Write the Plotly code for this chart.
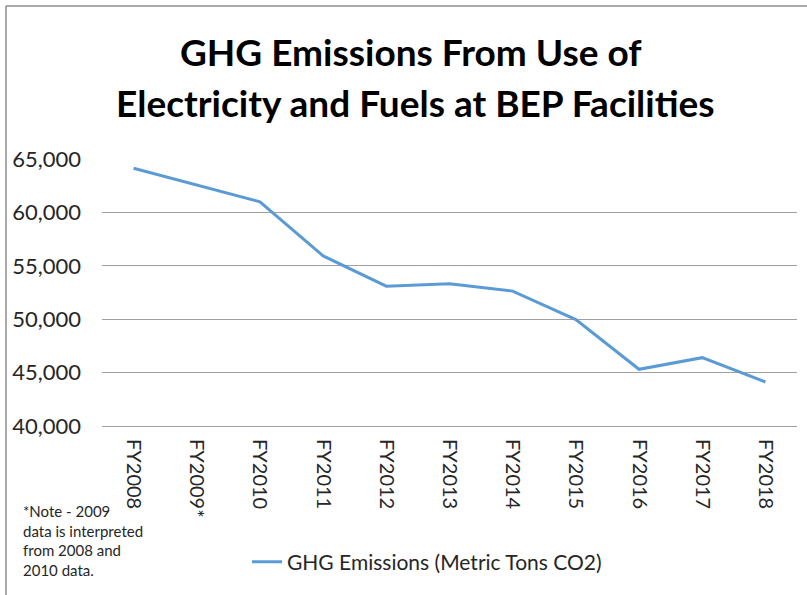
import plotly.graph_objects as go

categories = ["FY2008", "FY2009*", "FY2010", "FY2011", "FY2012", "FY2013",
              "FY2014", "FY2015", "FY2016", "FY2017", "FY2018"]
emissions = [64130, 62560, 60990, 55930, 53090, 53320, 52630, 49970, 45310, 46400, 44120]
series_name = "GHG Emissions (Metric Tons CO2)"
title_lines = ["GHG Emissions From Use of", "Electricity and Fuels at BEP Facilities"]
note_text = "*Note - 2009<br>data is interpreted<br>from 2008 and<br>2010 data."
y_ticks = [40000, 45000, 50000, 55000, 60000, 65000]

W, H = 807, 595
L, R, T, B = 102, 10, 159, 169
pw, ph = W - L - R, H - T - B

def px(x):
    return (x - L) / pw

def py(y):
    return (H - B - y) / ph

FONT = "Lato"
TXT = "#262626"

fig = go.Figure()
fig.add_trace(go.Scatter(
    x=categories, y=emissions, mode="lines", name=series_name,
    line=dict(color="#5B9BD5", width=3),
))

fig.update_layout(
    width=W, height=H,
    margin=dict(l=L, r=R, t=T, b=B),
    paper_bgcolor="white", plot_bgcolor="white",
    font=dict(family=FONT, color=TXT),
    showlegend=True,
    legend=dict(orientation="h", x=px(247), y=py(562), xanchor="left", yanchor="middle",
                font=dict(size=21, color=TXT), bgcolor="rgba(0,0,0,0)"),
    xaxis=dict(type="category", range=[-0.5, len(categories) - 0.5],
               tickangle=90, tickfont=dict(size=20, color=TXT),
               showgrid=False, showline=True, linecolor="#A0A0A0", linewidth=1,
               ticks="", ticklabelstandoff=8, fixedrange=True),
    yaxis=dict(range=[40000, 65000], tickvals=y_ticks, tickformat=",d",
               tickfont=dict(size=22, color=TXT),
               showgrid=True, gridcolor="#A0A0A0", gridwidth=1,
               zeroline=False, showline=False, ticks="", ticklabelstandoff=20,
               fixedrange=True),
)

fig.add_annotation(text="<b>%s</b>" % title_lines[0], xref="paper", yref="paper",
                   x=px(411), y=py(52), xanchor="center", yanchor="middle",
                   showarrow=False, font=dict(size=37, color="black", family=FONT))
fig.add_annotation(text="<b>%s</b>" % title_lines[1], xref="paper", yref="paper",
                   x=px(415), y=py(103), xanchor="center", yanchor="middle",
                   showarrow=False, font=dict(size=37, color="black", family=FONT))
fig.add_annotation(text=note_text, xref="paper", yref="paper",
                   x=px(21), y=py(500), xanchor="left", yanchor="top", align="left",
                   showarrow=False, font=dict(size=15, color=TXT, family=FONT))

# chart border (only top and left visible in the reference)
fig.add_shape(type="line", xref="paper", yref="paper", x0=px(6), x1=px(900), y0=py(6), y1=py(6),
              line=dict(color="#8C8C8C", width=1.5))
fig.add_shape(type="line", xref="paper", yref="paper", x0=px(6), x1=px(6), y0=py(6), y1=py(700),
              line=dict(color="#8C8C8C", width=1.5))

fig.write_html("out.html", config={"displayModeBar": False, "staticPlot": True},
               post_script="document.body.style.margin='0';")
